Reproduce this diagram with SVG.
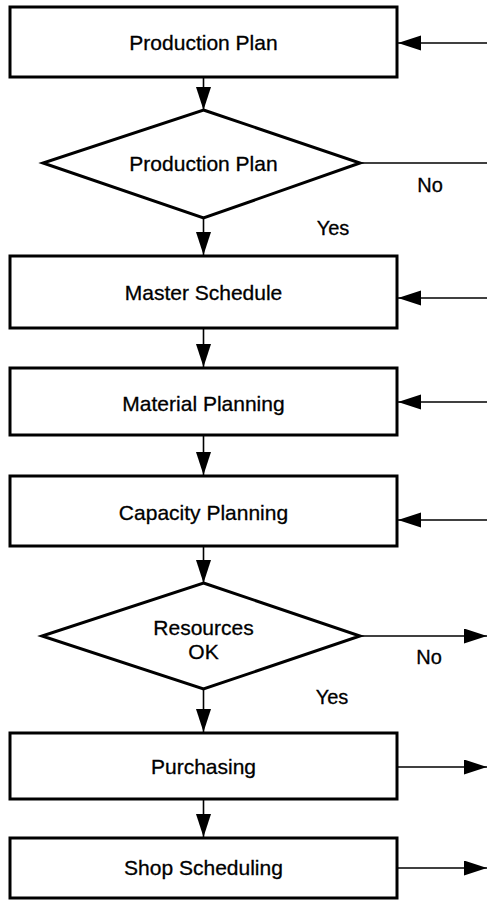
<svg xmlns="http://www.w3.org/2000/svg" width="487" height="900" viewBox="0 0 487 900">
<style>
.box{fill:#fff;stroke:#000;stroke-width:3}
.lbl{font-family:"Liberation Sans",Arial,sans-serif;font-size:21px;fill:#000;stroke:#000;stroke-width:0.3;text-anchor:middle}
.edge{fill:none;stroke:#000;stroke-width:1.6}
.el{font-family:"Liberation Sans",Arial,sans-serif;font-size:20px;fill:#000;stroke:#000;stroke-width:0.3;text-anchor:middle}
</style>
<defs>
<marker id="ah" markerUnits="userSpaceOnUse" markerWidth="24" markerHeight="16" refX="23" refY="7.5" orient="auto">
<path d="M0,0 L23,7.5 L0,15 Z" fill="#000"/>
</marker>
</defs>
<rect width="487" height="900" fill="#fff"/>
<g id="connectors">
<line class="edge" x1="203.5" y1="78" x2="203.5" y2="110" marker-end="url(#ah)"/>
<line class="edge" x1="203.5" y1="218" x2="203.5" y2="255" marker-end="url(#ah)"/>
<line class="edge" x1="203.5" y1="329" x2="203.5" y2="367" marker-end="url(#ah)"/>
<line class="edge" x1="203.5" y1="436" x2="203.5" y2="475" marker-end="url(#ah)"/>
<line class="edge" x1="203.5" y1="547" x2="203.5" y2="583" marker-end="url(#ah)"/>
<line class="edge" x1="203.5" y1="689" x2="203.5" y2="732" marker-end="url(#ah)"/>
<line class="edge" x1="203.5" y1="800" x2="203.5" y2="837" marker-end="url(#ah)"/>
<line class="edge" x1="487" y1="43" x2="398" y2="43" marker-end="url(#ah)"/>
<line class="edge" x1="360" y1="163" x2="487" y2="163"/>
<line class="edge" x1="487" y1="298" x2="398" y2="298" marker-end="url(#ah)"/>
<line class="edge" x1="487" y1="402" x2="398" y2="402" marker-end="url(#ah)"/>
<line class="edge" x1="487" y1="520" x2="398" y2="520" marker-end="url(#ah)"/>
<line class="edge" x1="360" y1="636" x2="487" y2="636" marker-end="url(#ah)"/>
<line class="edge" x1="397" y1="767" x2="487" y2="767" marker-end="url(#ah)"/>
<line class="edge" x1="397" y1="868" x2="487" y2="868" marker-end="url(#ah)"/>
<text class="el" x="430" y="192">No</text>
<text class="el" x="333" y="235">Yes</text>
<text class="el" x="429" y="664">No</text>
<text class="el" x="332" y="704">Yes</text>
</g>
<g id="n1"><rect class="box" x="10" y="7" width="387" height="70"/><text class="lbl" x="203.5" y="50">Production Plan</text></g>
<g id="d1"><polygon class="box" points="203.5,110 360,163 203.5,218 43,163"/><text class="lbl" x="203.5" y="171">Production Plan</text></g>
<g id="n2"><rect class="box" x="10" y="256" width="387" height="72"/><text class="lbl" x="203.5" y="300">Master Schedule</text></g>
<g id="n3"><rect class="box" x="10" y="368" width="387" height="67"/><text class="lbl" x="203.5" y="411">Material Planning</text></g>
<g id="n4"><rect class="box" x="10" y="476" width="387" height="70"/><text class="lbl" x="203.5" y="520">Capacity Planning</text></g>
<g id="d2"><polygon class="box" points="203.5,583 360,636 203.5,689 42,636"/><text class="lbl" x="203.5" y="635">Resources</text><text class="lbl" x="203.5" y="659">OK</text></g>
<g id="n5"><rect class="box" x="10" y="733" width="387" height="66"/><text class="lbl" x="203.5" y="774">Purchasing</text></g>
<g id="n6"><rect class="box" x="10" y="838" width="387" height="60"/><text class="lbl" x="203.5" y="875">Shop Scheduling</text></g>
</svg>
